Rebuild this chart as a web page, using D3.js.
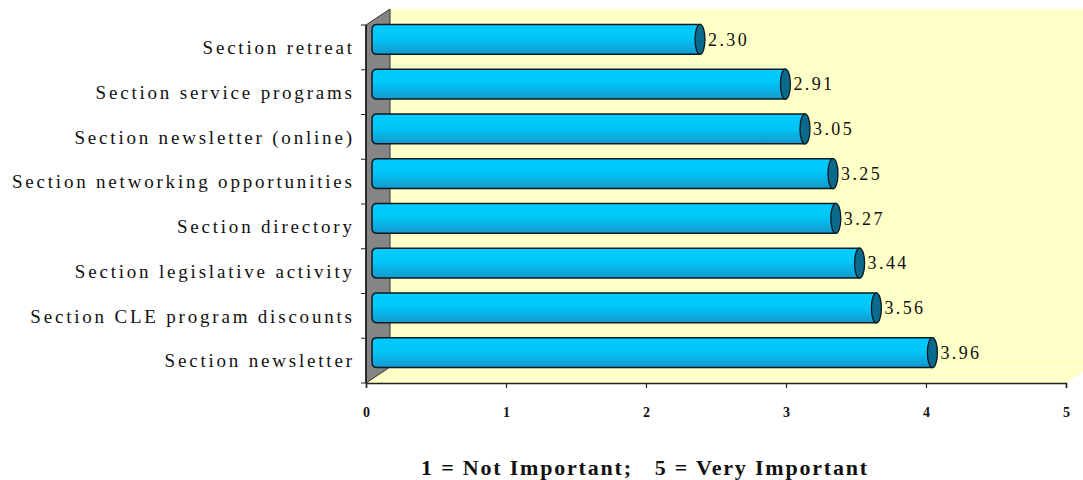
<!DOCTYPE html>
<html>
<head>
<meta charset="utf-8">
<script src="https://cdn.jsdelivr.net/npm/d3@7"></script>
<style>
  html, body { margin: 0; padding: 0; background: #ffffff; }
  svg { display: block; }
</style>
</head>
<body>
<svg id="chart" width="1083" height="480"></svg>
<script>
// Survey items, top to bottom, with their mean importance scores
const categories = [
  "Section retreat",
  "Section service programs",
  "Section newsletter (online)",
  "Section networking opportunities",
  "Section directory",
  "Section legislative activity",
  "Section CLE program discounts",
  "Section newsletter"
];
const scores = [2.30, 2.91, 3.05, 3.25, 3.27, 3.44, 3.56, 3.96];
const valueLabels = ["2.30", "2.91", "3.05", "3.25", "3.27", "3.44", "3.56", "3.96"];
const xTicks = [0, 1, 2, 3, 4, 5];
const scaleNote = "1 = Not Important;   5 = Very Important";

(function draw() {
  const svg = d3.select("#chart");
  const W = 1083;
  const serif = "'Liberation Serif', 'DejaVu Serif', serif";

  // Front plane of the plot and the 3D depth offset
  const plotL = 366, plotR = 1066, plotT = 25, plotB = 383;
  const depthX = 24, depthY = 16;

  const x = d3.scaleLinear().domain([0, 5]).range([plotL, plotR]);
  const y = d3.scaleBand().domain(categories).range([plotT, plotB])
    .paddingInner(0.33).paddingOuter(0.165);
  const yBand = d3.scaleBand().domain(categories).range([plotT, plotB]);

  const defs = svg.append("defs");
  const grad = defs.append("linearGradient").attr("id", "barFill")
    .attr("x1", 0).attr("y1", 0).attr("x2", 0).attr("y2", 1);
  grad.append("stop").attr("offset", "0%").attr("stop-color", "#00ccff");
  grad.append("stop").attr("offset", "45%").attr("stop-color", "#00c6f7");
  grad.append("stop").attr("offset", "100%").attr("stop-color", "#1598cc");

  const wallBlur = defs.append("filter").attr("id", "soft")
    .attr("x", "-5%").attr("y", "-5%").attr("width", "110%").attr("height", "110%");
  wallBlur.append("feGaussianBlur").attr("stdDeviation", 1.2);

  // Back wall and floor
  const cream = "#ffffc8";
  svg.append("rect")
    .attr("x", plotL + depthX).attr("y", plotT - depthY)
    .attr("width", W - (plotL + depthX) + 10).attr("height", plotB - plotT)
    .attr("fill", cream).attr("filter", "url(#soft)");
  svg.append("path")
    .attr("d", `M${plotL},${plotB} L${plotR},${plotB} L${plotR + depthX},${plotB - depthY} L${plotL + depthX},${plotB - depthY} Z`)
    .attr("fill", cream);

  // Side wall
  svg.append("path")
    .attr("d", `M${plotL},${plotT} L${plotL + depthX},${plotT - depthY} L${plotL + depthX},${plotB - depthY} L${plotL},${plotB} Z`)
    .attr("fill", "#858585").attr("stroke", "#333").attr("stroke-width", 1);
  svg.append("line")
    .attr("x1", plotL).attr("x2", plotL).attr("y1", plotT).attr("y2", plotB)
    .attr("stroke", "#111").attr("stroke-width", 1.5);

  // Category ticks on the side wall
  const tickYs = categories.map(c => yBand(c)).concat([plotB]);
  svg.append("g").selectAll("line")
    .data(tickYs)
    .join("line")
    .attr("x1", plotL - 5).attr("x2", plotL)
    .attr("y1", d => d).attr("y2", d => d)
    .attr("stroke", "#222").attr("stroke-width", 1);

  // Value axis along the front edge of the floor
  const xAxis = d3.axisBottom(x).tickValues(xTicks).tickSize(5).tickPadding(19)
    .tickFormat(d3.format("d"));
  const gx = svg.append("g").attr("transform", `translate(0,${plotB})`).call(xAxis);
  gx.select(".domain").attr("stroke", "#222").attr("stroke-width", 1.5);
  gx.selectAll(".tick line").attr("stroke", "#222").attr("stroke-width", 1.2);
  gx.selectAll(".tick text")
    .attr("font-family", serif)
    .attr("font-size", 14).attr("font-weight", "bold").attr("fill", "#111");

  // Cylinder bars, drawn at mid-depth
  const offX = depthX / 2, offY = -depthY / 2;
  const startX = x(0) + 6;
  const r = 5;
  const bars = svg.append("g").selectAll("g")
    .data(categories.map((c, i) => ({ c, v: scores[i], label: valueLabels[i] })))
    .join("g");

  bars.append("path")
    .attr("d", d => {
      const y0 = y(d.c) + offY, h = y.bandwidth();
      const x1 = x(d.v) + offX;
      return `M${x1},${y0} L${startX + r},${y0} Q${startX},${y0} ${startX},${y0 + r} ` +
        `L${startX},${y0 + h - r} Q${startX},${y0 + h} ${startX + r},${y0 + h} L${x1},${y0 + h} Z`;
    })
    .attr("fill", "url(#barFill)")
    .attr("stroke", "#0b1a22").attr("stroke-width", 1.5);

  bars.append("ellipse")
    .attr("cx", d => x(d.v) + offX)
    .attr("cy", d => y(d.c) + offY + y.bandwidth() / 2)
    .attr("rx", 5).attr("ry", y.bandwidth() / 2)
    .attr("fill", "#0a6a8c").attr("stroke", "#0b1a22").attr("stroke-width", 1.3);

  bars.append("text")
    .attr("x", d => x(d.v) + offX + 8)
    .attr("y", d => y(d.c) + offY + y.bandwidth() / 2)
    .attr("dy", "0.35em")
    .attr("font-family", serif)
    .attr("font-size", 18).attr("letter-spacing", "2.4px").attr("fill", "#111")
    .text(d => d.label);

  // Category labels
  const catSpacing = 2.8;
  svg.append("g").selectAll("text")
    .data(categories)
    .join("text")
    .attr("x", 352 + catSpacing)
    .attr("y", d => yBand(d) + yBand.bandwidth() / 2)
    .attr("dy", "0.35em")
    .attr("text-anchor", "end")
    .attr("font-family", serif)
    .attr("font-size", 19).attr("letter-spacing", catSpacing + "px").attr("fill", "#111")
    .text(d => d);

  // Scale note under the axis
  svg.append("text")
    .attr("x", 645).attr("y", 467).attr("dy", "0.35em")
    .attr("text-anchor", "middle")
    .attr("font-family", serif)
    .attr("font-size", 22).attr("font-weight", "bold").attr("letter-spacing", "1.8px")
    .attr("fill", "#111")
    .style("white-space", "pre")
    .text(scaleNote);
})();
</script>
</body>
</html>
